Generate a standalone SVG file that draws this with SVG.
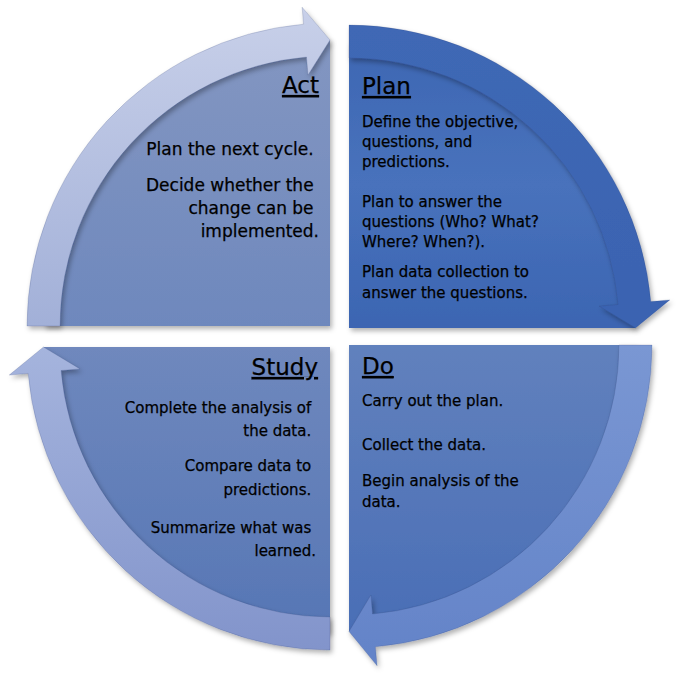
<svg xmlns="http://www.w3.org/2000/svg" width="680" height="678" viewBox="0 0 680 678">
<defs>
<style>
.t{font-family:"DejaVu Sans","Verdana",sans-serif;fill:#000000;stroke:#000000;stroke-width:0.25;}
.title{font-size:23px;text-decoration:underline;}
.body{font-size:15px;}
.actb{font-size:17px;}
.band{stroke:#2a3f70;stroke-opacity:0.18;stroke-width:1;filter:url(#sh);}
.pie{filter:url(#sh);}
</style>
<filter id="sh" x="-10%" y="-10%" width="125%" height="125%">
<feDropShadow dx="2" dy="3" stdDeviation="2.5" flood-color="#000" flood-opacity="0.3"/>
</filter>
<linearGradient id="gActF" x1="0" y1="0" x2="0" y2="1"><stop offset="0" stop-color="#8396c1"/><stop offset="1" stop-color="#6e88bd"/></linearGradient>
<linearGradient id="gActB" x1="0" y1="0" x2="0" y2="1"><stop offset="0" stop-color="#c8d0e9"/><stop offset="1" stop-color="#a2b0d8"/></linearGradient>
<linearGradient id="gPlanF" x1="0" y1="0" x2="0" y2="1"><stop offset="0" stop-color="#3e67b3"/><stop offset="0.5" stop-color="#4872bc"/><stop offset="1" stop-color="#3c65b2"/></linearGradient>
<linearGradient id="gPlanB" x1="0" y1="0" x2="0" y2="1"><stop offset="0" stop-color="#3f68b5"/><stop offset="1" stop-color="#3a63b1"/></linearGradient>
<linearGradient id="gStudyF" x1="0" y1="0" x2="0" y2="1"><stop offset="0" stop-color="#6f88bd"/><stop offset="1" stop-color="#5676b5"/></linearGradient>
<linearGradient id="gStudyB" x1="0" y1="0" x2="0" y2="1"><stop offset="0" stop-color="#a5b4dd"/><stop offset="1" stop-color="#8294cb"/></linearGradient>
<linearGradient id="gDoF" x1="0" y1="0" x2="0" y2="1"><stop offset="0" stop-color="#6181bd"/><stop offset="1" stop-color="#4a6eb6"/></linearGradient>
<linearGradient id="gDoB" x1="0" y1="0" x2="0" y2="1"><stop offset="0" stop-color="#7a97d3"/><stop offset="1" stop-color="#6383c8"/></linearGradient>
</defs>
<rect width="680" height="678" fill="#ffffff"/>

<g id="act">
<path class="pie" d="M330,326 L44,326 A286,286 0 0 1 330,40 Z" fill="url(#gActF)"/>
<text class="t title" x="319" y="93" text-anchor="end">Act</text>
<text class="t actb" text-anchor="end" x="319">
<tspan x="319" y="155">Plan the next cycle.</tspan>
<tspan x="319" y="191">Decide whether the</tspan>
<tspan x="319" y="214">change can be</tspan>
<tspan x="319" y="237">implemented.</tspan>
</text>
</g>

<g id="plan">
<path class="pie" d="M349,328 L349,42 A286,286 0 0 1 635,328 Z" fill="url(#gPlanF)"/>
<text class="t title" x="362" y="94">Plan</text>
<text class="t body">
<tspan x="362" y="127">Define the objective,</tspan>
<tspan x="362" y="147">questions, and</tspan>
<tspan x="362" y="167">predictions.</tspan>
<tspan x="362" y="207">Plan to answer the</tspan>
<tspan x="362" y="227">questions (Who? What?</tspan>
<tspan x="362" y="247">Where? When?).</tspan>
<tspan x="362" y="277">Plan data collection to</tspan>
<tspan x="362" y="298">answer the questions.</tspan>
</text>
</g>

<g id="study">
<path class="pie" d="M330,347 L330,633 A286,286 0 0 1 44,347 Z" fill="url(#gStudyF)"/>
<text class="t title" x="318" y="375" text-anchor="end">Study</text>
<text class="t body" text-anchor="end">
<tspan x="316" y="413">Complete the analysis of</tspan>
<tspan x="316" y="436">the data.</tspan>
<tspan x="316" y="471">Compare data to</tspan>
<tspan x="316" y="495">predictions.</tspan>
<tspan x="316" y="533">Summarize what was</tspan>
<tspan x="316" y="556">learned.</tspan>
</text>
</g>

<g id="do">
<path class="pie" d="M349,345 L635,345 A286,286 0 0 1 349,631 Z" fill="url(#gDoF)"/>
<text class="t title" x="362" y="374">Do</text>
<text class="t body">
<tspan x="362" y="406">Carry out the plan.</tspan>
<tspan x="362" y="450">Collect the data.</tspan>
<tspan x="362" y="486">Begin analysis of the</tspan>
<tspan x="362" y="507">data.</tspan>
</text>
</g>

<g id="connectors">
<path class="band" fill="url(#gActB)" d="M27,326 A303,303 0 0 1 303.6,24.2 L302.1,7.2 L330,40 L308,75 L306.5,57 A270,270 0 0 0 60,326 Z"/>
<path class="band" fill="url(#gPlanB)" d="M349,25 A303,303 0 0 1 650.8,301.6 L669.8,299.9 L635.5,328 L599,306.1 L618,304.5 A270,270 0 0 0 349,58 Z"/>
<path class="band" fill="url(#gDoB)" d="M652,345 A303,303 0 0 1 375.4,646.8 L377.1,665.8 L349,631.5 L370.9,595 L372.5,614 A270,270 0 0 0 619,345 Z"/>
<path class="band" fill="url(#gStudyB)" d="M330,650 A303,303 0 0 1 28.15,373.41 L9.23,375.06 L43.5,347 L79.96,368.88 L61.03,370.53 A270,270 0 0 0 330,617 Z"/>
</g>
</svg>
